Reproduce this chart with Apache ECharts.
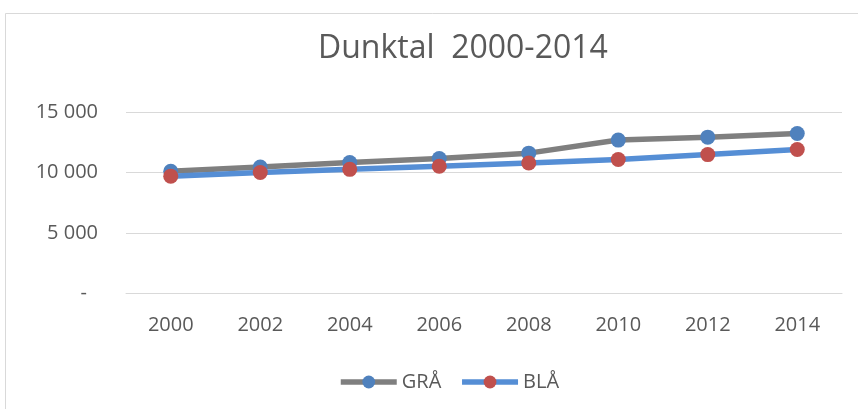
<!DOCTYPE html>
<html>
<head>
<meta charset="utf-8">
<script src="https://cdn.jsdelivr.net/npm/echarts@6/dist/echarts.min.js"></script>
<style>
html,body{margin:0;padding:0;background:#fff;}
#chart{width:858px;height:409px;}
</style>
</head>
<body>
<div id="chart"></div>
<script>
const titleText = 'Dunktal  2000-2014';
const categories = ['2000','2002','2004','2006','2008','2010','2012','2014'];
const seriesNames = ['GRÅ','BLÅ'];
const graValues = [10100, 10450, 10820, 11150, 11600, 12680, 12920, 13220];
const blaValues = [9700, 10000, 10260, 10520, 10790, 11080, 11480, 11900];
const yTicks = [0, 5000, 10000, 15000];

const FONT = '"Open Sans", "Noto Sans", sans-serif';
const chart = echarts.init(document.getElementById('chart'), null, {renderer:'canvas'});

function fmt(v){
  if (v === 0) return '{d|-}';
  return String(v).replace(/\B(?=(\d{3})+(?!\d))/g, ' ');
}

chart.setOption({
  backgroundColor: '#ffffff',
  animation: false,
  graphic: [{
    type: 'rect',
    shape: {x: 5.5, y: 13.5, width: 900, height: 500},
    style: {fill: 'none', stroke: '#d9d9d9', lineWidth: 1},
    silent: true, z: -1
  }],
  title: {
    text: titleText,
    left: 313,
    top: 28,
    textStyle: {fontFamily: FONT, fontSize: 32, fontWeight: 'normal', color: '#595959'}
  },
  legend: {
    data: seriesNames,
    top: 367,
    left: 333,
    itemWidth: 56,
    itemHeight: 16,
    itemGap: 18,
    lineStyle: {width: 5.5},
    textStyle: {fontFamily: FONT, fontSize: 20, color: '#595959'}
  },
  grid: {left: 126, right: 16, top: 112, bottom: 409 - 293.5},
  xAxis: {
    type: 'category',
    data: categories,
    boundaryGap: true,
    axisLine: {lineStyle: {color: '#d9d9d9', width: 1}},
    axisTick: {show: false},
    axisLabel: {fontFamily: FONT, fontSize: 20, color: '#595959', margin: 22}
  },
  yAxis: {
    type: 'value',
    min: yTicks[0],
    max: yTicks[yTicks.length - 1],
    interval: 5000,
    axisLine: {show: false},
    axisTick: {show: false},
    splitLine: {lineStyle: {color: '#d9d9d9', width: 1}},
    axisLabel: {
      fontFamily: FONT, fontSize: 20, color: '#595959', margin: 28,
      formatter: fmt,
      rich: {d: {fontFamily: FONT, fontSize: 20, color: '#595959', padding: [0, 11, 0, 0]}}
    }
  },
  series: [
    {
      name: seriesNames[0], type: 'line', data: graValues,
      symbol: 'circle', symbolSize: 15,
      lineStyle: {color: '#7f7f7f', width: 5.5},
      itemStyle: {color: '#4f81bd'},
      z: 2
    },
    {
      name: seriesNames[1], type: 'line', data: blaValues,
      symbol: 'circle', symbolSize: 15,
      lineStyle: {color: '#558ed5', width: 5.5},
      itemStyle: {color: '#c0504d'},
      z: 3
    }
  ]
});
</script>
</body>
</html>
